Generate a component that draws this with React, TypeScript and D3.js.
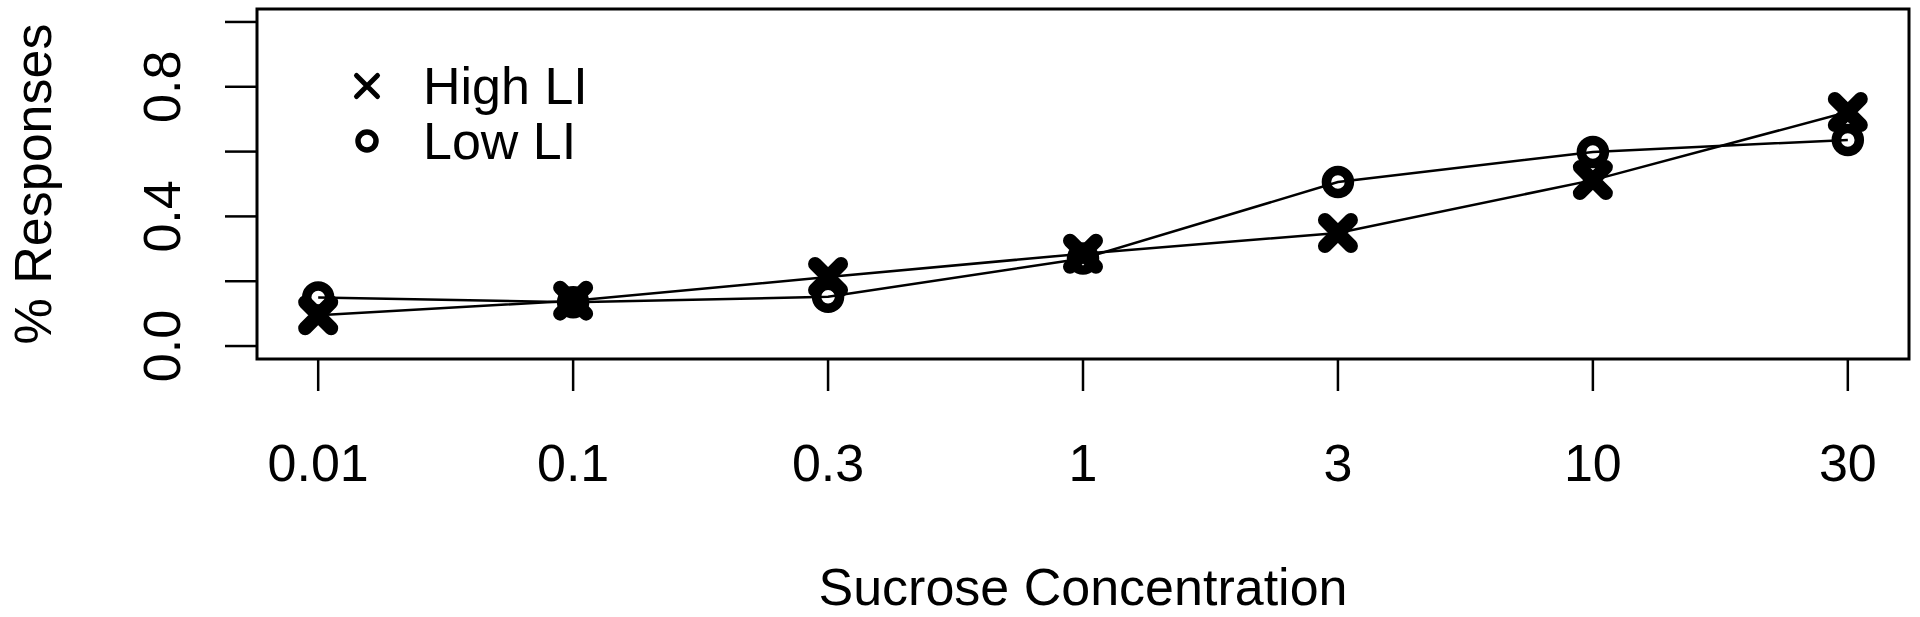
import React, { useRef, useEffect } from 'react';
import * as d3 from 'd3';

// sucrose concentrations on the x axis (evenly spaced categories)
const concentrations = ['0.01', '0.1', '0.3', '1', '3', '10', '30'];
const highLI = [0.095, 0.14, 0.213, 0.285, 0.349, 0.512, 0.722];
const lowLI = [0.15, 0.135, 0.152, 0.27, 0.506, 0.599, 0.636];
const yTicks = [0, 0.2, 0.4, 0.6, 0.8, 1.0];
const yTickLabels = ['0.0', '', '0.4', '', '0.8', ''];
const legendLabels = ['High LI', 'Low LI'];

const FONT = '"Liberation Sans", Arial, Helvetica, sans-serif';

export default function App() {
  const svgRef = useRef<SVGSVGElement>(null);

  useEffect(() => {
    const svg = d3.select(svgRef.current);
    svg.selectAll('*').remove();

    const left = 257, right = 1909, top = 9, bottom = 359;

    const x = d3.scalePoint<string>()
      .domain(concentrations)
      .range([left, right])
      .padding(0.24);

    const y = d3.scaleLinear()
      .domain([-0.04, 1.04])
      .range([bottom, top]);

    // plot box
    svg.append('rect')
      .attr('x', left)
      .attr('y', top)
      .attr('width', right - left)
      .attr('height', bottom - top)
      .attr('fill', 'none')
      .attr('stroke', '#000')
      .attr('stroke-width', 3);

    // y axis ticks + labels
    const yAxis = svg.append('g');
    yAxis.selectAll('line')
      .data(yTicks)
      .enter()
      .append('line')
      .attr('x1', left - 32)
      .attr('x2', left)
      .attr('y1', d => y(d))
      .attr('y2', d => y(d))
      .attr('stroke', '#000')
      .attr('stroke-width', 2.5);

    yAxis.selectAll('text')
      .data(yTicks)
      .enter()
      .append('text')
      .attr('transform', d => `translate(180, ${y(d)}) rotate(-90)`)
      .attr('text-anchor', 'middle')
      .style('font-family', FONT)
      .style('font-size', '52px')
      .text((d, i) => yTickLabels[i]);

    // x axis ticks + labels
    const xAxis = svg.append('g');
    xAxis.selectAll('line')
      .data(concentrations)
      .enter()
      .append('line')
      .attr('x1', d => x(d)!)
      .attr('x2', d => x(d)!)
      .attr('y1', bottom)
      .attr('y2', bottom + 32)
      .attr('stroke', '#000')
      .attr('stroke-width', 2.5);

    xAxis.selectAll('text')
      .data(concentrations)
      .enter()
      .append('text')
      .attr('x', d => x(d)!)
      .attr('y', 481)
      .attr('text-anchor', 'middle')
      .style('font-family', FONT)
      .style('font-size', '52px')
      .text(d => d);

    // axis titles
    svg.append('text')
      .attr('x', (left + right) / 2)
      .attr('y', 605)
      .attr('text-anchor', 'middle')
      .style('font-family', FONT)
      .style('font-size', '52px')
      .text('Sucrose Concentration');

    svg.append('text')
      .attr('transform', `translate(51, ${(top + bottom) / 2}) rotate(-90)`)
      .attr('text-anchor', 'middle')
      .style('font-family', FONT)
      .style('font-size', '52px')
      .text('% Responses');

    const line = d3.line<number>()
      .x((d, i) => x(concentrations[i])!)
      .y(d => y(d));

    const crossPath = (s: number) => `M${-s},${-s}L${s},${s}M${-s},${s}L${s},${-s}`;

    // connecting lines first, markers on top
    [highLI, lowLI].forEach(series => {
      svg.append('path')
        .attr('d', line(series))
        .attr('fill', 'none')
        .attr('stroke', '#000')
        .attr('stroke-width', 2.5);
    });

    svg.append('g')
      .selectAll('path')
      .data(highLI)
      .enter()
      .append('path')
      .attr('transform', (d, i) => `translate(${x(concentrations[i])}, ${y(d)})`)
      .attr('d', crossPath(13))
      .attr('fill', 'none')
      .attr('stroke', '#000')
      .attr('stroke-width', 14)
      .attr('stroke-linecap', 'round');

    svg.append('g')
      .selectAll('circle')
      .data(lowLI)
      .enter()
      .append('circle')
      .attr('cx', (d, i) => x(concentrations[i])!)
      .attr('cy', d => y(d))
      .attr('r', 11.5)
      .attr('fill', 'none')
      .attr('stroke', '#000')
      .attr('stroke-width', 9.5);

    // legend
    const legend = svg.append('g');
    legend.append('path')
      .attr('transform', 'translate(367, 86)')
      .attr('d', crossPath(10.5))
      .attr('fill', 'none')
      .attr('stroke', '#000')
      .attr('stroke-width', 5)
      .attr('stroke-linecap', 'round');
    legend.append('circle')
      .attr('cx', 367)
      .attr('cy', 141)
      .attr('r', 9)
      .attr('fill', 'none')
      .attr('stroke', '#000')
      .attr('stroke-width', 5.5);

    legend.selectAll('text')
      .data(legendLabels)
      .enter()
      .append('text')
      .attr('x', 423)
      .attr('y', (d, i) => 104 + i * 55)
      .style('font-family', FONT)
      .style('font-size', '52px')
      .text(d => d);
  }, []);

  return (
    <svg
      ref={svgRef}
      width={1920}
      height={617}
      style={{ position: 'absolute', left: 0, top: 0, background: '#fff' }}
    />
  );
}
